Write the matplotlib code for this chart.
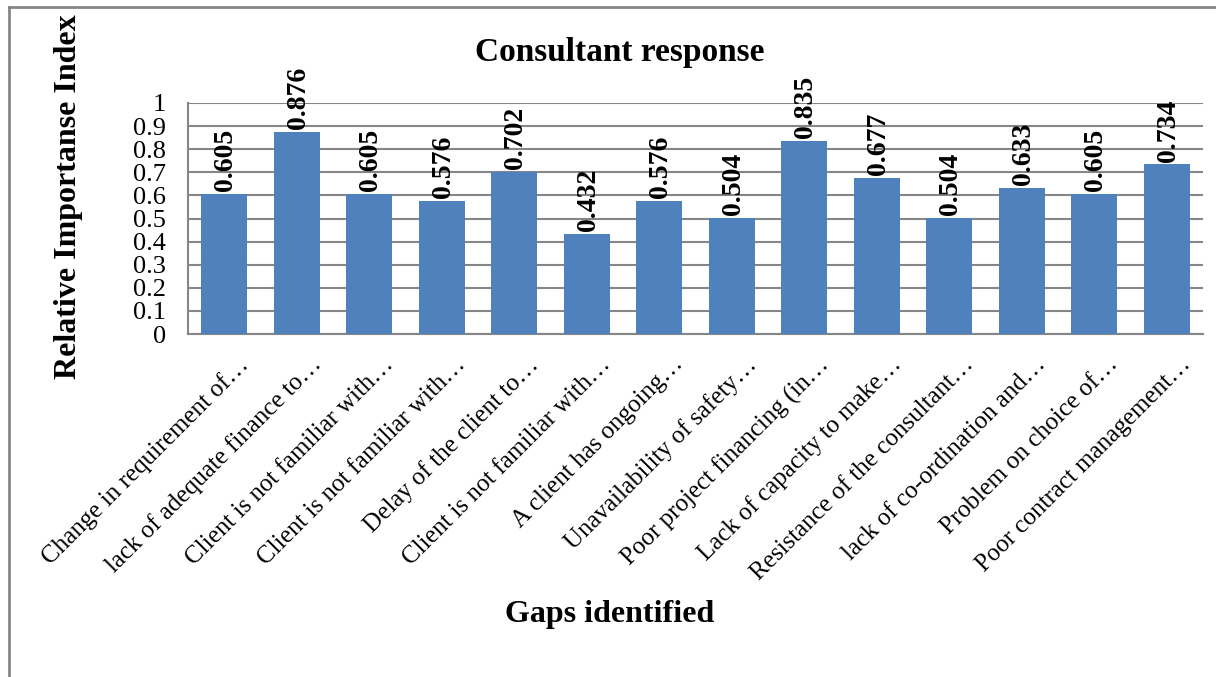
import matplotlib.pyplot as plt
import matplotlib.transforms as mtransforms
import numpy as np

# === DATA ===
gaps = [
    "Change in requirement of\u2026",
    "lack of adequate finance to\u2026",
    "Client is not familiar with\u2026",
    "Client is not familiar with\u2026",
    "Delay of the client to\u2026",
    "Client is not familiar with\u2026",
    "A client has ongoing\u2026",
    "Unavailability of safety\u2026",
    "Poor project financing (in\u2026",
    "Lack of capacity to make\u2026",
    "Resistance of the consultant\u2026",
    "lack of co-ordination and\u2026",
    "Problem on choice of\u2026",
    "Poor contract management\u2026",
]
rii = [0.605, 0.876, 0.605, 0.576, 0.702, 0.432, 0.576,
       0.504, 0.835, 0.677, 0.504, 0.633, 0.605, 0.734]
yticks = [0, 0.1, 0.2, 0.3, 0.4, 0.5, 0.6, 0.7, 0.8, 0.9, 1]

plt.rcParams['font.family'] = ['Liberation Serif', 'DejaVu Serif']
grid_col = "#868686"
bar_col = "#4F81BD"

fig = plt.figure(figsize=(12.16, 6.77), dpi=100)
ax = fig.add_axes([0.1546, 0.5066, 0.8347, 0.3413])

x = np.arange(len(gaps))
ax.bar(x, rii, width=0.63, color=bar_col, zorder=3)

# value labels above each bar
for xi, v in zip(x, rii):
    ax.annotate(f"{v:.3f}", (xi, v), xytext=(1, 2), textcoords="offset points",
                rotation=90, ha="center", va="bottom", fontsize=20,
                fontweight="bold", zorder=4, annotation_clip=False)

ax.set_xlim(-0.5, len(gaps) - 0.5)
ax.set_ylim(0, 1)
ax.set_yticks(yticks)
ax.set_yticklabels([f"{t:g}" for t in yticks], fontsize=19)
ax.yaxis.grid(True, color=grid_col, lw=1.5, zorder=0)
ax.tick_params(axis="y", length=0, pad=16)
ax.tick_params(axis="x", length=0, pad=0)

ax.set_xticks(x)
ax.set_xticklabels(gaps, rotation=45, ha="right", rotation_mode="anchor",
                   fontsize=18)
shift = mtransforms.ScaledTranslation(13 / 100, -19 / 100, fig.dpi_scale_trans)
for lbl in ax.get_xticklabels():
    lbl.set_transform(lbl.get_transform() + shift)

for s in ["top", "right"]:
    ax.spines[s].set_visible(False)
for s in ["left", "bottom"]:
    ax.spines[s].set_color(grid_col)
    ax.spines[s].set_linewidth(1.5)

fig.text(0.51, 0.923, "Consultant response", ha="center", va="center",
         fontsize=24, fontweight="bold")
fig.text(0.056, 0.71, "Relative Importanse Index", ha="center", va="center",
         rotation=90, fontsize=23, fontweight="bold")
fig.text(0.501, 0.092, "Gaps identified", ha="center", va="center",
         fontsize=23, fontweight="bold")

# outer frame (top and left edges)
fig.add_artist(plt.Line2D([9 / 1216, 1], [1 - 7 / 677] * 2, color=grid_col,
                          lw=2, transform=fig.transFigure))
fig.add_artist(plt.Line2D([9 / 1216] * 2, [0, 1 - 7 / 677], color=grid_col,
                          lw=2, transform=fig.transFigure))

plt.savefig("out.png", dpi=100)
